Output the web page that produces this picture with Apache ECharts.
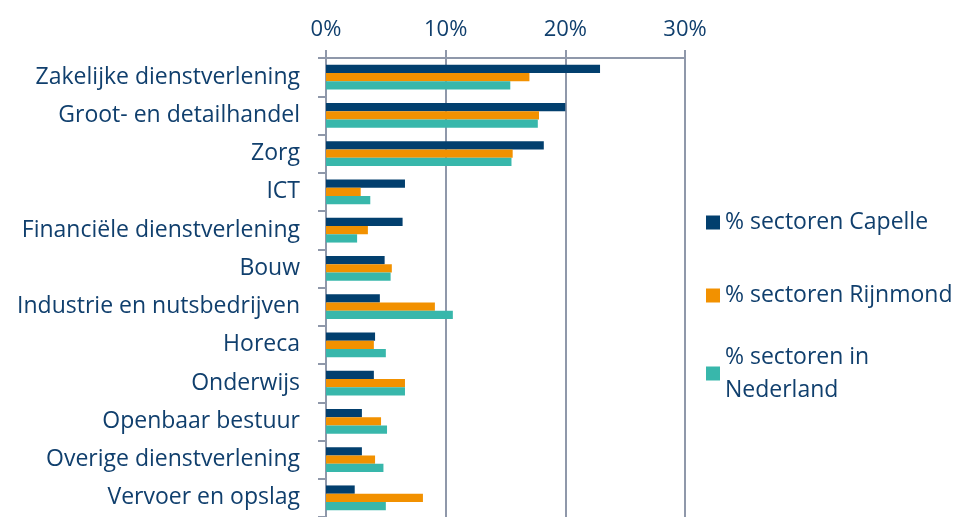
<!DOCTYPE html>
<html>
<head>
<meta charset="utf-8">
<script src="https://cdn.jsdelivr.net/npm/echarts@6/dist/echarts.min.js"></script>
<style>
  html, body { margin: 0; padding: 0; background: #fff; }
  #chart { width: 959px; height: 517px; }
</style>
</head>
<body>
<div id="chart"></div>
<script>
// sectoren, van boven naar beneden
const sectoren = [
  'Zakelijke dienstverlening', 'Groot- en detailhandel', 'Zorg', 'ICT',
  'Financiële dienstverlening', 'Bouw', 'Industrie en nutsbedrijven', 'Horeca',
  'Onderwijs', 'Openbaar bestuur', 'Overige dienstverlening', 'Vervoer en opslag'
];
const capelle   = [22.9, 20.0, 18.2, 6.6, 6.4, 4.9, 4.5, 4.1, 4.0, 3.0, 3.0, 2.4];
const rijnmond  = [17.0, 17.8, 15.6, 2.9, 3.5, 5.5, 9.1, 4.0, 6.6, 4.6, 4.1, 8.1];
const nederland = [15.4, 17.7, 15.5, 3.7, 2.6, 5.4, 10.6, 5.0, 6.6, 5.1, 4.8, 5.0];
const xTicks = [0, 10, 20, 30];

const txt = '#103f6d';
const lijn = '#8f98aa';
const font = 'Open Sans';

const chart = echarts.init(document.getElementById('chart'));

function legendItem(name, top, extra) {
  return Object.assign({
    data: [name], orient: 'vertical', left: 706, top: top, padding: 0,
    itemWidth: 14, itemHeight: 14, icon: 'rect', itemGap: 0,
    textStyle: { color: txt, fontFamily: font, fontSize: 23 }
  }, extra || {});
}

chart.setOption({
  animation: false,
  grid: { left: 326, right: 274, top: 58, bottom: -5, containLabel: false },
  legend: [
    legendItem('% sectoren Capelle', 211),
    legendItem('% sectoren Rijnmond', 284),
    legendItem('% sectoren in Nederland', 324, {
      formatter: () => '% sectoren in\nNederland',
      textStyle: { color: txt, fontFamily: font, fontSize: 23, lineHeight: 33, padding: [33, 0, 0, 0] }
    })
  ],
  xAxis: {
    type: 'value', position: 'top', min: xTicks[0], max: xTicks[xTicks.length - 1], interval: 10,
    axisLine: { show: true, lineStyle: { color: lijn, width: 2 } },
    axisTick: { show: true, length: 8, lineStyle: { color: lijn, width: 2 } },
    splitLine: { show: true, lineStyle: { color: lijn, width: 2 } },
    axisLabel: { formatter: '{value}%', color: txt, fontFamily: font, fontSize: 22, margin: 17 }
  },
  yAxis: {
    type: 'category', data: sectoren, inverse: true,
    axisLine: { show: true, lineStyle: { color: lijn, width: 2 } },
    axisTick: { show: true, length: 8, lineStyle: { color: lijn, width: 2 } },
    axisLabel: { color: txt, fontFamily: font, fontSize: 23, margin: 26, padding: [3, 0, 0, 0] }
  },
  series: [
    { name: '% sectoren Capelle', type: 'bar', data: capelle, itemStyle: { color: '#023f6e' },
      barGap: '0%', barCategoryGap: '35%' },
    { name: '% sectoren Rijnmond', type: 'bar', data: rijnmond, itemStyle: { color: '#f29100' } },
    { name: '% sectoren in Nederland', type: 'bar', data: nederland, itemStyle: { color: '#38b7ab' } }
  ]
});
</script>
</body>
</html>
